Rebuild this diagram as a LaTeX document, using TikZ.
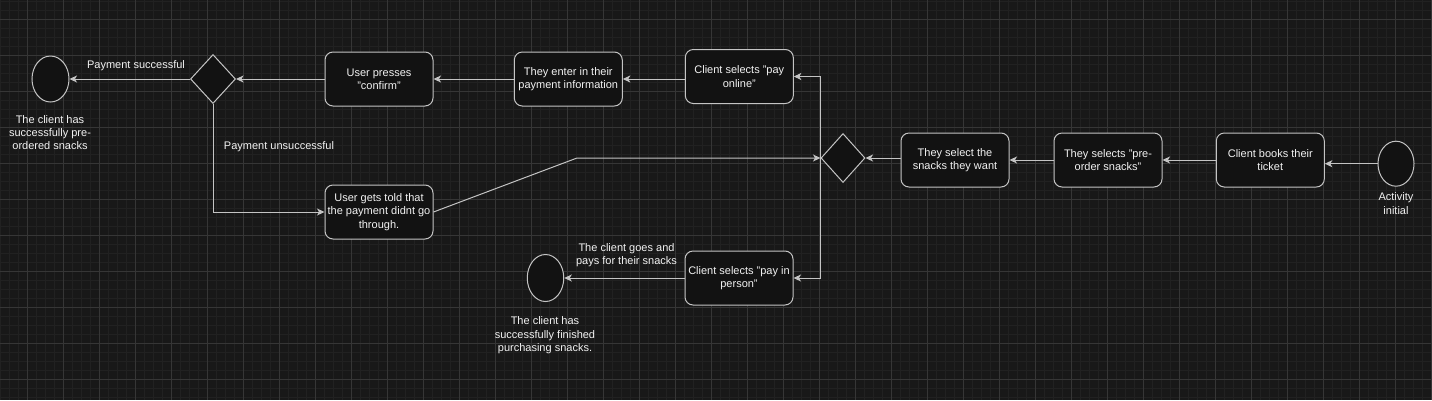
\documentclass[tikz,border=0pt]{standalone}
\usepackage{fontspec}
\setmainfont{Liberation Sans}
\usetikzlibrary{shapes.geometric,arrows.meta}
\definecolor{bgC}{HTML}{181818}
\definecolor{minorC}{HTML}{212121}
\definecolor{majorC}{HTML}{363636}
\definecolor{lineC}{HTML}{C4C4C4}
\definecolor{boxC}{HTML}{121212}
\definecolor{txtC}{HTML}{F2F2F2}
\begin{document}
\begin{tikzpicture}[x=1pt,y=-1pt,
  txt/.style={text=txtC, font=\fontsize{11}{13.3}\selectfont, align=center, inner sep=0pt},
  box/.style={txt, draw=lineC, fill=boxC, rounded corners=8pt, minimum width=108pt, minimum height=54pt, line width=1pt},
  dia/.style={diamond, draw=lineC, fill=boxC, inner sep=0pt, minimum width=45pt, minimum height=49pt, line width=1pt},
  term/.style={ellipse, draw=lineC, fill=boxC, inner sep=0pt, minimum width=36pt, minimum height=46pt, line width=1pt},
  arr/.style={draw=lineC, line width=1pt, -{Stealth[length=7.5pt,width=7pt,inset=2pt]}}
]
\useasboundingbox (0,0) rectangle (1432,400);
\fill[bgC] (0,0) rectangle (1432,400);
% grid
\foreach \i in {0,...,159} \draw[minorC, line width=0.6pt] (0.3+9*\i,0) -- (0.3+9*\i,400);
\foreach \i in {0,...,44} \draw[minorC, line width=0.6pt] (0,1+9*\i) -- (1432,1+9*\i);
\foreach \i in {0,...,39} \draw[majorC, line width=0.8pt] (27.3+36*\i,0) -- (27.3+36*\i,400);
\foreach \i in {0,...,10} \draw[majorC, line width=0.8pt] (0,19+36*\i) -- (1432,19+36*\i);

% nodes
\node[term, minimum width=36pt, minimum height=45pt] (init) at (1396,163.7) {};
\node[txt] (initlbl) at (1396,203.5) {Activity\\initial};
\node[box] (books) at (1270.3,160) {Client books their\\ticket};
\node[box] (preorder) at (1108,160) {They selects "pre-\\order snacks"};
\node[box] (snacks) at (955,160) {They select the\\snacks they want};
\node[dia, minimum width=44pt] (d2) at (843,158) {};
\node[box] (online) at (739.3,76.5) {Client selects "pay\\online"};
\node[box] (person) at (739,278) {Client selects "pay in\\person"};
\node[box] (enter) at (568.3,79) {They enter in their\\payment information};
\node[box] (confirm) at (379,79) {User presses\\"confirm"};
\node[box] (told) at (379,212) {User gets told that\\the payment didnt go\\through.};
\node[dia] (d1) at (213,79) {};
\node[term, minimum width=37pt] (end1) at (50.5,79) {};
\node[txt] (end1lbl) at (50,132.5) {The client has\\successfully pre-\\ordered snacks};
\node[term, minimum width=36.5pt, minimum height=47pt] (end2) at (545.5,278) {};
\node[txt] (end2lbl) at (545,335.3) {The client has\\successfully finished\\purchasing snacks.};
\node[txt] (lblsucc) at (136,66) {Payment successful};
\node[txt] (lblunsucc) at (279,147) {Payment unsuccessful};
\node[txt] (lblpays) at (626.5,255) {The client goes and\\pays for their snacks};
\coordinate (bend) at (577,158);

% connectors
\draw[arr] (init.west) -- (init.west -| books.east);
\draw[arr] (books.west) -- (preorder.east);
\draw[arr] (preorder.west) -- (snacks.east);
\draw[arr] (snacks.west |- d2) -- (d2.east);
\draw[arr] (d2.west) |- (online.east);
\draw[arr] (d2.west) |- (person.east);
\draw[arr] (online.west |- enter) -- (enter.east);
\draw[arr] (enter.west) -- (confirm.east);
\draw[arr] (confirm.west) -- (d1.east);
\draw[arr] (d1.west) -- (end1.east);
\draw[arr] (d1.south) |- (told.west);
\draw[arr] (told.east) -- (bend) -- (d2.west);
\draw[arr] (person.west) -- (end2.east);
\end{tikzpicture}
\end{document}
